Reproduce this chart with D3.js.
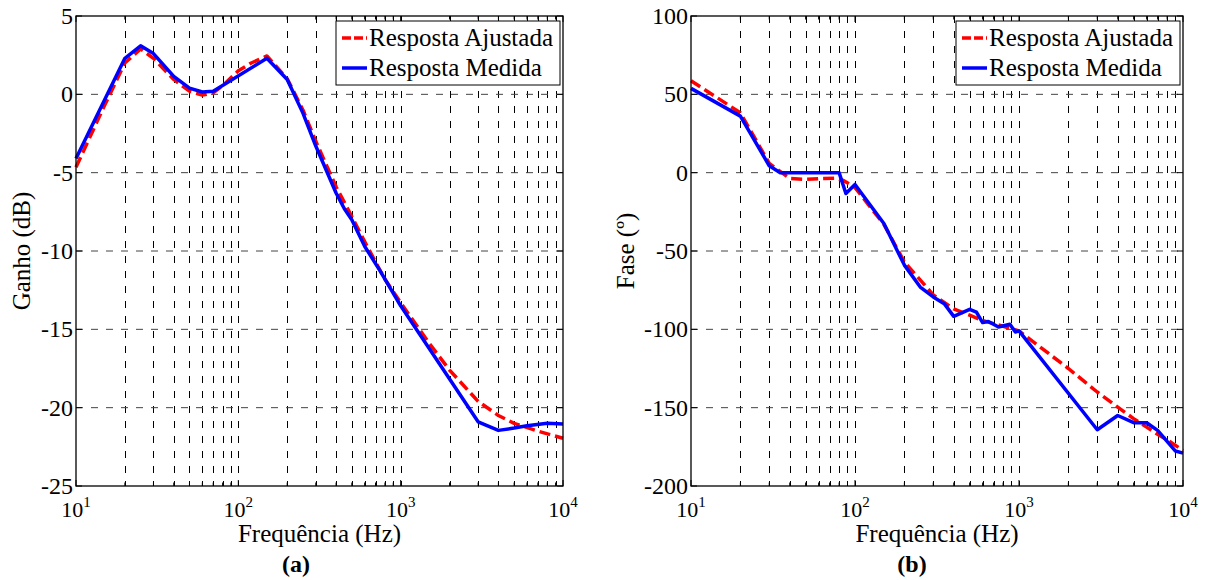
<!DOCTYPE html>
<html>
<head>
<meta charset="utf-8">
<script src="https://cdn.jsdelivr.net/npm/d3@7"></script>
<style>
  html, body { margin: 0; padding: 0; background: #fff; }
  svg { display: block; }
  svg text { font-family: "Liberation Serif", "Times New Roman", Times, serif; }
</style>
</head>
<body>
<svg id="chart" width="1208" height="580"></svg>
<script>
// ---------------- DATA ----------------
const seriesNames = ["Resposta Ajustada", "Resposta Medida"];
const xTickExponents = [1, 2, 3, 4];

// Panel (a): gain (dB)
const gainTicks = [5, 0, -5, -10, -15, -20, -25];
const gainFitFreq = [10, 15, 20, 25, 30, 40, 50, 60, 70, 80, 100, 120, 150, 200, 250, 300, 400, 500, 600, 700, 800, 1000, 1500, 2000, 3000, 4000, 5000, 7000, 10000];
const gainFitVal  = [-4.65, -0.7, 2.0, 2.9, 2.3, 0.95, 0.2, -0.05, 0.1, 0.55, 1.5, 2.0, 2.45, 1.0, -1.0, -3.0, -5.9, -7.8, -9.4, -10.7, -11.8, -13.3, -15.9, -17.6, -19.6, -20.5, -21.0, -21.5, -21.95];
const gainMeasFreq = [10, 20, 25, 30, 40, 50, 60, 70, 150, 200, 250, 300, 400, 450, 500, 600, 750, 1000, 3000, 4000, 5000, 6000, 8000, 10000];
const gainMeasVal  = [-4.1, 2.3, 3.1, 2.6, 1.15, 0.4, 0.15, 0.2, 2.3, 0.95, -1.2, -3.3, -6.3, -7.3, -8.0, -9.7, -11.3, -13.5, -20.9, -21.45, -21.3, -21.15, -21.0, -21.05];

// Panel (b): phase (degrees)
const phaseTicks = [100, 50, 0, -50, -100, -150, -200];
const phaseFitFreq = [10, 20, 30, 40, 50, 60, 75, 85, 100, 150, 200, 300, 400, 500, 600, 800, 1000, 2000, 3000, 4000, 5000, 6000, 7000, 8000, 10000];
const phaseFitVal  = [58.7, 38.2, 5.9, -3.7, -4.3, -3.8, -3.6, -5, -9.5, -33, -57, -78, -87, -91, -94.4, -98, -101, -125, -140, -149.7, -157, -162.4, -167, -170.5, -177.3];
const phaseMeasFreq = [10, 20, 30, 35, 80, 88, 100, 150, 200, 250, 300, 350, 400, 500, 550, 600, 650, 750, 880, 950, 1000, 3000, 4000, 5000, 6000, 7000, 9000, 10000];
const phaseMeasVal  = [53.8, 36.1, 4.4, 0, 0, -13.3, -7.5, -32.5, -59, -73, -79.3, -83.6, -91.7, -87.2, -89, -95.7, -95, -98.5, -96.8, -101.7, -101, -164.1, -155, -159.6, -159.6, -164.5, -177.7, -179];

// ---------------- DRAW ----------------
const svg = d3.select("#chart");
const zip = (f, v) => f.map((d, i) => ({ f: d, v: v[i] }));

function panel(cfg) {
  const g = svg.append("g");
  const x = d3.scaleLog().domain([10, 10000]).range([cfg.x0, cfg.x1]);
  const y = d3.scaleLinear().domain([cfg.ticks[cfg.ticks.length - 1], cfg.ticks[0]]).range([cfg.y1, cfg.y0]);

  // grid
  const xAll = x.ticks().filter(t => t > 10 && t < 10000);
  g.selectAll(".vg").data(xAll).join("line")
    .attr("x1", d => Math.round(x(d)) + 0.5).attr("x2", d => Math.round(x(d)) + 0.5)
    .attr("y1", cfg.y0).attr("y2", cfg.y1)
    .attr("stroke", "#000").attr("stroke-width", 1).attr("stroke-dasharray", "7,8");
  g.selectAll(".hg").data(cfg.ticks.slice(1, -1)).join("line")
    .attr("x1", cfg.x0).attr("x2", cfg.x1)
    .attr("y1", d => y(d)).attr("y2", d => y(d))
    .attr("stroke", "#444").attr("stroke-width", 1).attr("stroke-dasharray", "7,8");

  // ticks (inside, all four sides)
  const xMajor = xTickExponents.map(e => Math.pow(10, e));
  const tk = g.append("g").attr("stroke", "#000").attr("stroke-width", 1);
  x.ticks().forEach(t => {
    const len = xMajor.includes(t) ? 6 : 3.5;
    tk.append("line").attr("x1", x(t)).attr("x2", x(t)).attr("y1", cfg.y1).attr("y2", cfg.y1 - len);
    tk.append("line").attr("x1", x(t)).attr("x2", x(t)).attr("y1", cfg.y0).attr("y2", cfg.y0 + len);
  });
  cfg.ticks.forEach(t => {
    tk.append("line").attr("x1", cfg.x0).attr("x2", cfg.x0 + 6).attr("y1", y(t)).attr("y2", y(t));
    tk.append("line").attr("x1", cfg.x1).attr("x2", cfg.x1 - 6).attr("y1", y(t)).attr("y2", y(t));
  });

  // data lines
  const line = d3.line().x(d => x(d.f)).y(d => y(d.v));
  g.append("path").datum(zip(cfg.fitF, cfg.fitV)).attr("d", line)
    .attr("fill", "none").attr("stroke", "#ff0000").attr("stroke-width", 3.5)
    .attr("stroke-dasharray", "11,5").attr("stroke-linejoin", "round");
  g.append("path").datum(zip(cfg.measF, cfg.measV)).attr("d", line)
    .attr("fill", "none").attr("stroke", "#0000ff").attr("stroke-width", 3.5)
    .attr("stroke-linejoin", "round");

  // frame
  g.append("rect").attr("x", cfg.x0).attr("y", cfg.y0)
    .attr("width", cfg.x1 - cfg.x0).attr("height", cfg.y1 - cfg.y0)
    .attr("fill", "none").attr("stroke", "#000").attr("stroke-width", 1.3);

  // y tick labels
  g.selectAll(".yl").data(cfg.ticks).join("text")
    .attr("x", cfg.x0 - 3).attr("y", d => y(d) + 8)
    .attr("text-anchor", "end").attr("font-size", 24).text(d => d);

  // x tick labels (10^n)
  xTickExponents.forEach(e => {
    const t = g.append("text").attr("x", x(Math.pow(10, e))).attr("y", cfg.y1 + 31)
      .attr("text-anchor", "middle").attr("font-size", 22);
    t.append("tspan").text("10");
    t.append("tspan").attr("dy", -10).attr("font-size", 15).text(e);
  });

  // axis labels
  g.append("text").attr("x", (cfg.x0 + cfg.x1) / 2).attr("y", 541.5)
    .attr("text-anchor", "middle").attr("font-size", 25).text("Frequência (Hz)");
  g.append("text").attr("transform", `translate(${cfg.ylx},${(cfg.y0 + cfg.y1) / 2}) rotate(-90)`)
    .attr("text-anchor", "middle").attr("font-size", 25).text(cfg.ylabel);
  g.append("text").attr("x", cfg.capX).attr("y", 572)
    .attr("text-anchor", "middle").attr("font-size", 24).attr("font-weight", "bold").text(cfg.caption);

  // legend
  const lx = cfg.x1 - 227, ly = cfg.y0 + 5;
  const lg = g.append("g");
  lg.append("rect").attr("x", lx).attr("y", ly).attr("width", 224).attr("height", 64)
    .attr("fill", "#fff").attr("stroke", "#000").attr("stroke-width", 1);
  const cols = ["#ff0000", "#0000ff"];
  seriesNames.forEach((n, i) => {
    const yy = ly + 17 + i * 30;
    lg.append("line").attr("x1", lx + 6).attr("x2", lx + 31).attr("y1", yy).attr("y2", yy)
      .attr("stroke", cols[i]).attr("stroke-width", 3.5)
      .attr("stroke-dasharray", i === 0 ? "9,3" : null);
    lg.append("text").attr("x", lx + 33).attr("y", yy + 8).attr("font-size", 25).text(n);
  });
}

panel({
  x0: 76, x1: 563, y0: 16, y1: 486, ticks: gainTicks,
  fitF: gainFitFreq, fitV: gainFitVal, measF: gainMeasFreq, measV: gainMeasVal,
  ylabel: "Ganho (dB)", ylx: 30, caption: "(a)", capX: 296
});
panel({
  x0: 691, x1: 1183, y0: 16, y1: 486, ticks: phaseTicks,
  fitF: phaseFitFreq, fitV: phaseFitVal, measF: phaseMeasFreq, measV: phaseMeasVal,
  ylabel: "Fase (º)", ylx: 634, caption: "(b)", capX: 912
});
</script>
</body>
</html>
